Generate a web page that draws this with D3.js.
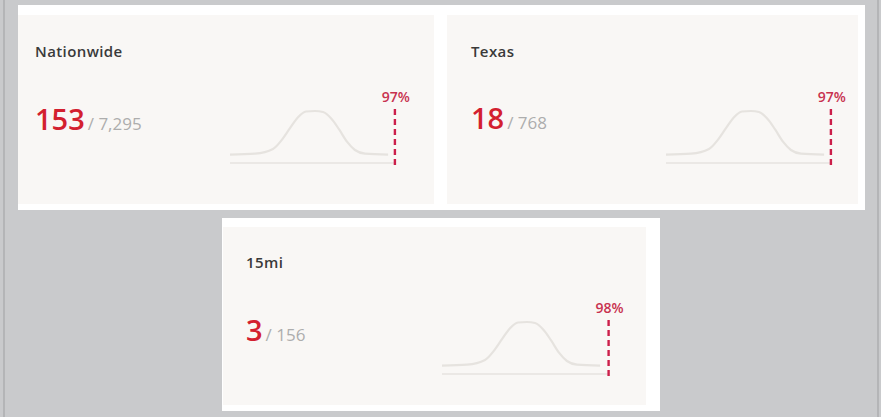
<!DOCTYPE html>
<html>
<head>
<meta charset="utf-8">
<script src="https://cdnjs.cloudflare.com/ajax/libs/d3/7.8.5/d3.min.js"></script>
<style>
  html, body { margin: 0; padding: 0; background: #c9cacc; }
  svg { display: block; font-family: "Open Sans", sans-serif; }
</style>
</head>
<body>
<div class="chart"></div>
<script>
// data
var regions = ["Nationwide", "Texas", "15mi"];
var ranks = [153, 18, 3];
var totals = [7295, 768, 156];
var percentiles = [97, 97, 98];

// shared distribution shape (x in percentile units, y relative density)
var curveX = [0, 14.7, 25.3, 30.6, 35.3, 40, 44.7, 50, 54.7, 59.4, 64.1, 68.8, 73.5, 79.4, 93];
var curveY = [0.16, 0.18, 0.27, 0.45, 0.67, 0.88, 0.99, 1.0, 0.98, 0.86, 0.65, 0.41, 0.25, 0.18, 0.16];

// layout of each card (white frame, inner panel, content anchors)
var cards = [
  {frame: [18, 5, 422, 205], panel: [18, 15, 416, 189], textX: 35, titleY: 57, numY: 130, chartX: 230, baseY: 163},
  {frame: [440, 5, 425, 205], panel: [447, 15, 411, 189], textX: 471, titleY: 57, numY: 129, chartX: 666, baseY: 163},
  {frame: [222, 218, 438, 193], panel: [223, 227, 423, 178], textX: 246, titleY: 268, numY: 341, chartX: 442, baseY: 374}
];

var width = 881, height = 417;
var chartW = 170, chartH = 52;

var svg = d3.select(".chart").append("svg")
    .attr("width", width)
    .attr("height", height);

// outer frame borders
svg.append("rect").attr("x", 3).attr("y", 0).attr("width", 2).attr("height", height).attr("fill", "#b4b5b7");
svg.append("rect").attr("x", 877).attr("y", 0).attr("width", 2).attr("height", height).attr("fill", "#b4b5b7");

var points = curveX.map((x, i) => ({x: x, y: curveY[i]}));
var fmt = d3.format(",");

regions.forEach(function(name, i) {
    var c = cards[i];
    var g = svg.append("g");

    g.append("rect")
        .attr("x", c.frame[0]).attr("y", c.frame[1])
        .attr("width", c.frame[2]).attr("height", c.frame[3])
        .attr("fill", "#ffffff");
    g.append("rect")
        .attr("x", c.panel[0]).attr("y", c.panel[1])
        .attr("width", c.panel[2]).attr("height", c.panel[3])
        .attr("fill", "#f9f7f5");

    g.append("text")
        .attr("x", c.textX).attr("y", c.titleY)
        .attr("font-size", 15).attr("font-weight", 600)
        .attr("letter-spacing", 0.4)
        .attr("fill", "#3a3a3a")
        .text(name);

    var num = g.append("text")
        .attr("x", c.textX).attr("y", c.numY);
    num.append("tspan")
        .attr("font-size", 29).attr("font-weight", 600)
        .attr("fill", "#d3202f")
        .text(ranks[i]);
    num.append("tspan")
        .attr("font-size", 17).attr("fill", "#adadad")
        .attr("dx", 3)
        .text("/ " + fmt(totals[i]));

    // mini distribution chart
    var x = d3.scaleLinear().domain([0, 100]).range([c.chartX, c.chartX + chartW]);
    var y = d3.scaleLinear().domain([0, 1]).range([c.baseY, c.baseY - chartH]);

    g.append("line")
        .attr("x1", x(0)).attr("x2", x(percentiles[i]))
        .attr("y1", y(0)).attr("y2", y(0))
        .attr("stroke", "#ebe8e5").attr("stroke-width", 2);

    var line = d3.line()
        .x(d => x(d.x))
        .y(d => y(d.y))
        .curve(d3.curveMonotoneX);

    g.append("path")
        .datum(points)
        .attr("d", line)
        .attr("fill", "none")
        .attr("stroke", "#e6e3df")
        .attr("stroke-width", 2.2);

    g.append("line")
        .attr("x1", x(percentiles[i])).attr("x2", x(percentiles[i]))
        .attr("y1", y(0) + 2).attr("y2", y(1.08))
        .attr("stroke", "#cc1f4a").attr("stroke-width", 2.4)
        .attr("stroke-dasharray", "6,4");

    g.append("text")
        .attr("x", x(percentiles[i]) + 1).attr("y", y(1.17))
        .attr("text-anchor", "middle")
        .attr("font-size", 14).attr("font-weight", 600)
        .attr("fill", "#c8324f")
        .text(percentiles[i] + "%");
});
</script>
</body>
</html>
